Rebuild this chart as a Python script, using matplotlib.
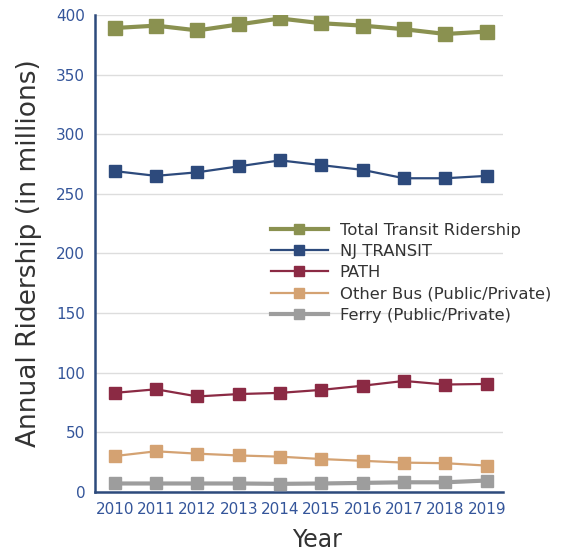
import matplotlib
matplotlib.use("Agg")
import matplotlib.pyplot as plt

years = [2010, 2011, 2012, 2013, 2014, 2015, 2016, 2017, 2018, 2019]
total = [389, 391, 387, 392, 397, 393, 391, 388, 384, 386]
nj_transit = [269, 265, 268, 273, 278, 274, 270, 263, 263, 265]
path = [83, 86, 80, 82, 83, 85.5, 89, 93, 90, 90.5]
other_bus = [30, 34, 32, 30.5, 29.5, 27.5, 26, 24.5, 24, 22]
ferry = [7, 7, 7, 7, 6.7, 7, 7.5, 8, 8, 9.5]
yticks = [0, 50, 100, 150, 200, 250, 300, 350, 400]

plt.rcParams['font.family'] = ['DejaVu Sans']

fig = plt.figure(figsize=(5.82, 5.52), dpi=100)
ax = fig.add_axes([0.163, 0.109, 0.701, 0.864])

series = [
    ("Total Transit Ridership", total, "#8a9150", 3.0, 10),
    ("NJ TRANSIT", nj_transit, "#2d4a7c", 1.6, 9),
    ("PATH", path, "#8b2a44", 1.6, 9),
    ("Other Bus (Public/Private)", other_bus, "#d4a272", 1.6, 9),
    ("Ferry (Public/Private)", ferry, "#9d9d9d", 3.0, 9),
]
for label, vals, col, lw, ms in series:
    ax.plot(years, vals, color=col, lw=lw, marker='s', ms=ms, label=label, zorder=3)

ax.set_ylim(0, 400)
ax.set_xlim(2009.52, 2019.39)
ax.set_yticks(yticks)
ax.set_xticks(years)
ax.tick_params(length=0, labelsize=11, labelcolor="#34559a", pad=7)
ax.grid(axis='y', color='#dddddd', lw=1, zorder=0)
ax.set_axisbelow(True)
for s in ['top', 'right']:
    ax.spines[s].set_visible(False)
for s in ['left', 'bottom']:
    ax.spines[s].set_color("#2d4a7c")
    ax.spines[s].set_linewidth(1.8)

ax.set_ylabel("Annual Ridership (in millions)", fontsize=19, color="#333333", labelpad=10)
ax.set_xlabel("Year", fontsize=17, color="#333333")
ax.xaxis.label.set_verticalalignment('center')
ax.xaxis.set_label_coords(0.544, -0.1)

leg = ax.legend(loc='upper left', bbox_to_anchor=(0.415, 0.578), frameon=False,
                fontsize=11.8, handlelength=3.5, handletextpad=0.7, labelspacing=0.38,
                borderaxespad=0, markerscale=0.75)
for t in leg.get_texts():
    t.set_color("#333333")

fig.savefig("out.png", dpi=100)
